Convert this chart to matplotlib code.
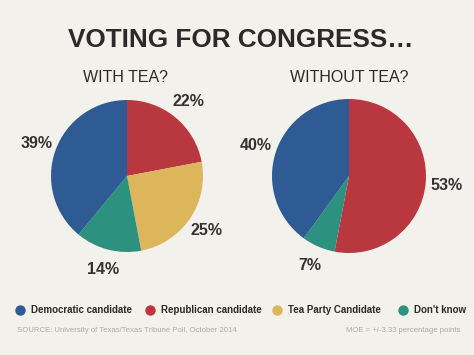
import matplotlib
matplotlib.use("Agg")
import matplotlib.pyplot as plt
from matplotlib.lines import Line2D

plt.rcParams['font.family'] = ['Liberation Sans', 'DejaVu Sans']

# data
categories = ["Democratic candidate", "Republican candidate", "Tea Party Candidate", "Don't know"]
colors = ["#2E5B93", "#B9373F", "#DDB65B", "#2D9180"]

# clockwise from 12 o'clock
with_tea_order = [1, 2, 3, 0]
with_tea = [22, 25, 14, 39]
without_tea_order = [1, 3, 0]
without_tea = [53, 7, 40]

W, H = 474, 355
bg = "#F3F1EB"
fig = plt.figure(figsize=(W / 100, H / 100), dpi=100, facecolor=bg)
ax = fig.add_axes([0, 0, 1, 1])
ax.set_facecolor(bg)


def draw_pie(vals, order, cx, cy, r):
    ax.pie(vals, colors=[colors[i] for i in order], startangle=90, counterclock=False,
           center=(cx, H - cy), radius=r, autopct=lambda p: f"{round(p)}%",
           pctdistance=1.27, frame=True,
           textprops=dict(fontsize=11.5, fontweight="bold", color="#333333"),
           wedgeprops=dict(linewidth=0))


draw_pie(with_tea, with_tea_order, 127, 176, 76)
draw_pie(without_tea, without_tea_order, 349, 176, 77)
ax.set_xlim(0, W)
ax.set_ylim(0, H)
ax.set_aspect("equal")
ax.axis("off")

fig.text(241 / W, 1 - 40 / H, "VOTING FOR CONGRESS…", ha="center", va="center",
         fontsize=18.8, fontweight="bold", color="#2a2a2a")
fig.text(126 / W, 1 - 78 / H, "WITH TEA?", ha="center", va="center", fontsize=11.5, color="#2a2a2a")
fig.text(349 / W, 1 - 78 / H, "WITHOUT TEA?", ha="center", va="center", fontsize=11.5, color="#2a2a2a")

# legend entries placed one by one
legend_x = [15, 145, 272, 398]
for lab, c, x in zip(categories, colors, legend_x):
    h = Line2D([], [], marker="o", linestyle="", markersize=7.5, markerfacecolor=c,
               markeredgewidth=0)
    leg = fig.legend([h], [lab], loc="center left", bbox_to_anchor=(x / W, 1 - 310 / H),
                     frameon=False, handletextpad=0.65, handlelength=1.0, borderpad=0,
                     borderaxespad=0, prop=dict(size=7, weight="bold"))
    leg.get_texts()[0].set_color("#2a2a2a")

fig.text(17 / W, 1 - 331 / H, "SOURCE: University of Texas/Texas Tribune Poll, October 2014",
         ha="left", va="center", fontsize=5.6, color="#AAAAAA")
fig.text(460 / W, 1 - 331 / H, "MOE = +/-3.33 percentage points",
         ha="right", va="center", fontsize=5.6, color="#AAAAAA")

fig.savefig("out.png", dpi=100, facecolor=bg)
